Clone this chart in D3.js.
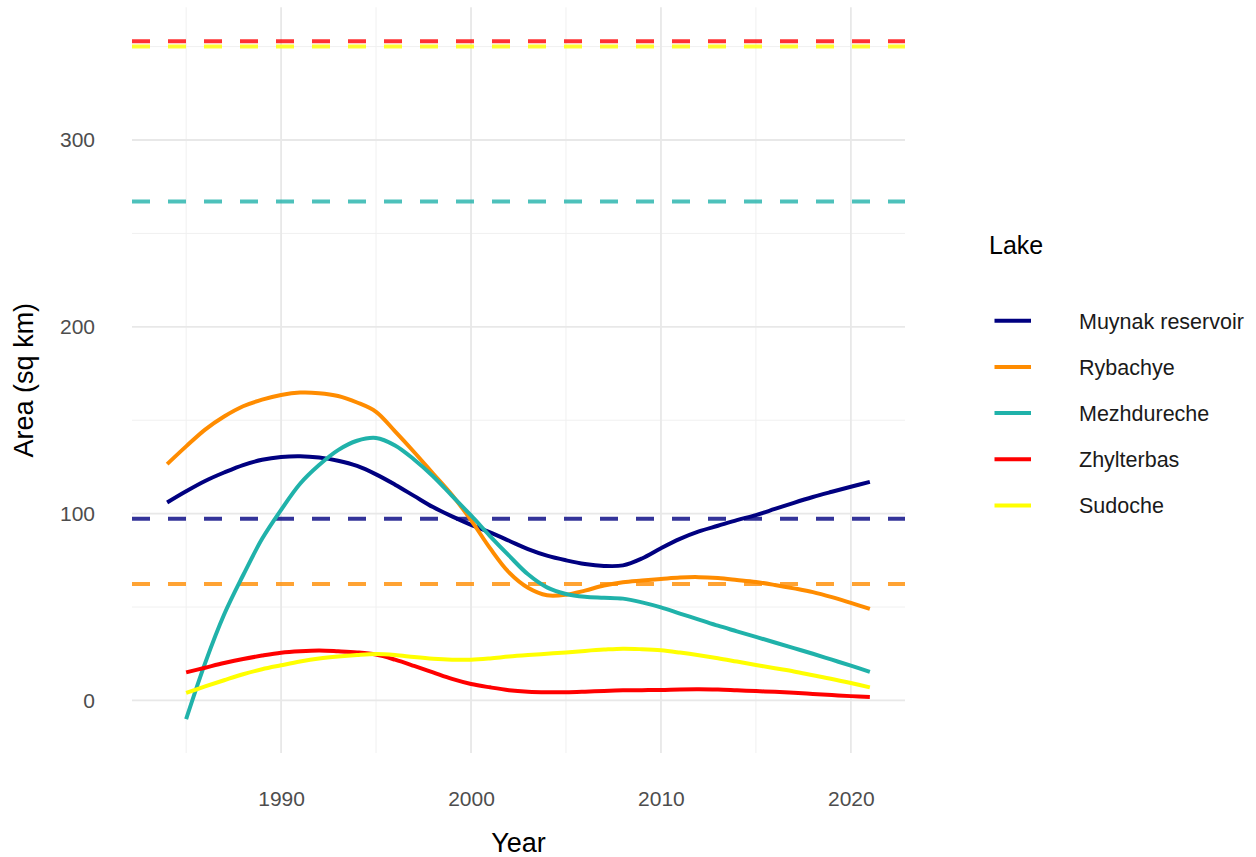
<!DOCTYPE html>
<html>
<head>
<meta charset="utf-8">
<script src="https://cdn.jsdelivr.net/npm/d3@7"></script>
<style>
  html, body { margin: 0; padding: 0; background: #ffffff; }
  svg { display: block; font-family: "Liberation Sans", Arial, sans-serif; }
</style>
</head>
<body>
<svg id="chart" width="1256" height="857"></svg>
<script>
// Lakes, in legend order
const lakes = ["Muynak reservoir", "Rybachye", "Mezhdureche", "Zhylterbas", "Sudoche"];
const lakeColors = ["#000080", "#FF8C00", "#20B2AA", "#FF0000", "#FFFF00"];

// Smoothed lake area (sq km) by year
const muynakYears = d3.range(1984, 2022);
const muynakArea = [106, 112, 117.5, 122, 126, 128.8, 130.3, 130.7, 130, 128.3, 125.5, 121, 115.5, 109.5,
  103.5, 98.5, 94, 90, 85.5, 81, 77.5, 75, 73, 72, 72.3, 76, 81.5, 86.5, 90.5, 93.5, 96.5,
  99.2, 102.5, 105.8, 108.9, 111.7, 114.4, 117];

const rybachyeYears = d3.range(1984, 2022);
const rybachyeArea = [126.5, 136, 145, 152, 157.5, 161, 163.5, 164.8, 164.5, 163, 159.5, 154.5, 144, 133,
  121.5, 110, 96.5, 81.5, 68.5, 60.3, 56.3, 56.6, 58.8, 61.5, 63.3, 64.2, 65, 65.8, 66, 65.5, 64.5, 63.4,
  61.8, 60, 58, 55.3, 52.2, 49];

const mezhdurecheYears = d3.range(1985, 2022);
const mezhdurecheArea = [-10, 20, 46, 67, 86.5, 102, 116, 126, 134, 139, 140.5, 136.5, 129, 120,
  109.5, 99, 88, 77.5, 67.5, 60.5, 57, 55.5, 55, 54.5, 52.5, 49.8, 46.5, 43.3, 40, 37, 34, 31,
  28, 25, 21.8, 18.6, 15.3];

const zhylterbasYears = d3.range(1985, 2022);
const zhylterbasArea = [15, 17.5, 20, 22.2, 24, 25.5, 26.3, 26.7, 26.3, 25.7, 24.5, 21.8, 18.5, 15, 11.5,
  8.8, 7, 5.5, 4.7, 4.4, 4.4, 4.7, 5.1, 5.4, 5.5, 5.6, 5.9, 6, 5.8, 5.4, 5, 4.6, 4.1, 3.5, 2.9, 2.3, 1.8];

const sudocheYears = d3.range(1985, 2022);
const sudocheArea = [4, 7.5, 10.8, 14, 16.7, 18.8, 20.8, 22.4, 23.5, 24.3, 24.8, 24.3, 23.2, 22.3, 21.8,
  21.8, 22.5, 23.5, 24.3, 25, 25.7, 26.5, 27.2, 27.7, 27.4, 26.8, 25.6, 24.2, 22.6, 20.8, 19, 17.2,
  15.5, 13.5, 11.5, 9.3, 7];

// Reference area for each lake (dashed lines), same order as lakes
const referenceArea = [97.3, 62.3, 267.1, 352.9, 350];

// Axis ticks
const xTicks = [1990, 2000, 2010, 2020];
const xMinorTicks = [1985, 1995, 2005, 2015];
const yTicks = [0, 100, 200, 300];
const yMinorTicks = [50, 150, 250, 350];

const seriesYears = [muynakYears, rybachyeYears, mezhdurecheYears, zhylterbasYears, sudocheYears];
const seriesArea = [muynakArea, rybachyeArea, mezhdurecheArea, zhylterbasArea, sudocheArea];
const series = lakes.map((name, i) => ({
  name, color: lakeColors[i], ref: referenceArea[i],
  values: seriesYears[i].map((y, j) => ({ year: y, area: seriesArea[i][j] }))
}));

// Panel geometry
const panel = { left: 132, right: 905, top: 7.3, bottom: 753 };

const allYears = seriesYears.flat();
const allArea = seriesArea.flat().concat(referenceArea);
function expand(ext) { const d = (ext[1] - ext[0]) * 0.05; return [ext[0] - d, ext[1] + d]; }

const x = d3.scaleLinear().domain(expand(d3.extent(allYears))).range([panel.left, panel.right]);
const y = d3.scaleLinear().domain(expand(d3.extent(allArea))).range([panel.bottom, panel.top]);

const svg = d3.select("#chart");
svg.append("rect").attr("width", 1256).attr("height", 857).attr("fill", "#ffffff");

// Grid
const grid = svg.append("g");
grid.selectAll(".ymin").data(yMinorTicks).join("line")
  .attr("x1", panel.left).attr("x2", panel.right)
  .attr("y1", d => y(d)).attr("y2", d => y(d))
  .attr("stroke", "#f0f0f0").attr("stroke-width", 1);
grid.selectAll(".xmin").data(xMinorTicks).join("line")
  .attr("x1", d => x(d)).attr("x2", d => x(d))
  .attr("y1", panel.top).attr("y2", panel.bottom)
  .attr("stroke", "#f0f0f0").attr("stroke-width", 1);
grid.selectAll(".ymaj").data(yTicks).join("line")
  .attr("x1", panel.left).attr("x2", panel.right)
  .attr("y1", d => y(d)).attr("y2", d => y(d))
  .attr("stroke", "#e8e8e8").attr("stroke-width", 1.8);
grid.selectAll(".xmaj").data(xTicks).join("line")
  .attr("x1", d => x(d)).attr("x2", d => x(d))
  .attr("y1", panel.top).attr("y2", panel.bottom)
  .attr("stroke", "#e8e8e8").attr("stroke-width", 1.8);

// Axes (labels only, no domain line or tick marks)
const xAxis = svg.append("g")
  .attr("transform", `translate(0,${panel.bottom})`)
  .call(d3.axisBottom(x).tickValues(xTicks).tickFormat(d3.format("d")).tickSize(0).tickPadding(38));
const yAxis = svg.append("g")
  .attr("transform", `translate(${panel.left},0)`)
  .call(d3.axisLeft(y).tickValues(yTicks).tickFormat(d3.format("d")).tickSize(0).tickPadding(37));
[xAxis, yAxis].forEach(a => {
  a.select(".domain").remove();
  a.selectAll("text").attr("fill", "#4d4d4d").attr("font-size", 21)
    .attr("font-family", "'Liberation Sans', Arial, sans-serif");
});

// Reference lines
svg.append("g").selectAll("line").data(series).join("line")
  .attr("x1", panel.left).attr("x2", panel.right)
  .attr("y1", d => y(d.ref)).attr("y2", d => y(d.ref))
  .attr("stroke", d => d.color).attr("stroke-opacity", 0.8)
  .attr("stroke-width", 4).attr("stroke-dasharray", "18,18");

// Smoothed area lines
const line = d3.line().x(d => x(d.year)).y(d => y(d.area)).curve(d3.curveCatmullRom.alpha(0.5));
svg.append("g").selectAll("path").data(series).join("path")
  .attr("d", d => line(d.values))
  .attr("fill", "none").attr("stroke", d => d.color)
  .attr("stroke-width", 4).attr("stroke-linejoin", "round");

// Axis titles
svg.append("text").attr("x", (panel.left + panel.right) / 2).attr("y", 852)
  .attr("text-anchor", "middle").attr("font-size", 27).attr("fill", "#000").text("Year");
svg.append("text")
  .attr("transform", `translate(33,${(panel.top + panel.bottom) / 2}) rotate(-90)`)
  .attr("text-anchor", "middle").attr("font-size", 27).attr("fill", "#000").text("Area (sq km)");

// Legend
const legend = svg.append("g").attr("transform", "translate(989,0)");
legend.append("text").attr("x", 0).attr("y", 254).attr("font-size", 25).attr("fill", "#000").text("Lake");
const items = legend.selectAll(".item").data(series).join("g")
  .attr("transform", (d, i) => `translate(0,${320.7 + i * 46.2})`);
items.append("line").attr("x1", 5.5).attr("x2", 42)
  .attr("stroke", d => d.color).attr("stroke-width", 4);
items.append("text").attr("x", 90).attr("y", 7.8)
  .attr("font-size", 21.5).attr("fill", "#1a1a1a").text(d => d.name);
</script>
</body>
</html>
